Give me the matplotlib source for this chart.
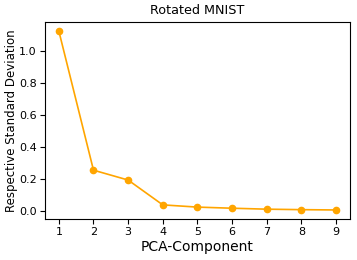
import matplotlib
matplotlib.use("Agg")
import matplotlib.pyplot as plt

# PCA components and their std deviations
components = [1, 2, 3, 4, 5, 6, 7, 8, 9]
std_devs = [1.128, 0.254, 0.192, 0.036, 0.022, 0.015, 0.009, 0.006, 0.004]

fig, ax = plt.subplots(figsize=(3.57, 2.60), dpi=100)
ax.plot(components, std_devs, color="orange", marker="o", markersize=4.5, linewidth=1.2)
ax.set_title("Rotated MNIST", fontsize=9.2)
ax.set_xlabel("PCA-Component", fontsize=10, labelpad=2)
ax.set_ylabel("Respective Standard Deviation", fontsize=8.5, labelpad=0.5)
ax.set_xticks(components)
ax.tick_params(labelsize=8, pad=2.5)
fig.subplots_adjust(left=0.126, right=0.98, top=0.915, bottom=0.158)
fig.savefig("out.png")
